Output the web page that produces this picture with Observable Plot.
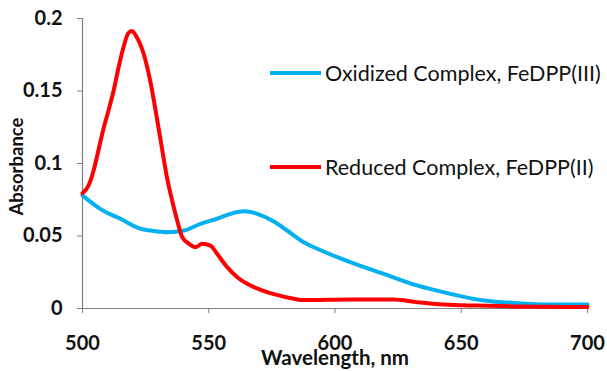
<!DOCTYPE html>
<html>
<head>
<meta charset="utf-8">
<script src="https://cdn.jsdelivr.net/npm/d3@7"></script>
<script src="https://cdn.jsdelivr.net/npm/@observablehq/plot@0.6"></script>
<style>
  html, body { margin: 0; padding: 0; background: #fff; }
  #wrap { position: relative; width: 607px; height: 371px; font-family: Lato, "Open Sans", sans-serif; }
  .leg { position: absolute; left: 270px; display: flex; align-items: center; font-size: 21.5px; color: #111; white-space: nowrap; }
  .leg .sw { width: 51px; height: 4px; margin-right: 4px; }
</style>
</head>
<body>
<div id="wrap"></div>
<script>
// Series names and colours
const seriesNames = ["Oxidized Complex, FeDPP(III)", "Reduced Complex, FeDPP(II)"];
const seriesColors = ["#00B0F0", "#FF0000"];

// Oxidized complex (blue)
const oxNm  = [500, 507, 515, 523, 527, 533.6, 540.2, 546.7, 553.3, 558.6, 563.9, 569.2, 575.8, 581, 587.6, 593, 606, 619.3, 632.5, 645.7, 659, 672, 685, 700];
const oxAbs = [0.078, 0.0687, 0.0619, 0.055, 0.0538, 0.0526, 0.0538, 0.0584, 0.0619, 0.0653, 0.0671, 0.0653, 0.0600, 0.0538, 0.0457, 0.0412, 0.032, 0.0239, 0.0159, 0.0101, 0.0055, 0.0037, 0.0028, 0.0028];

// Reduced complex (red)
const redNm  = [500, 502.4, 504.4, 506.3, 508.3, 510.3, 512.3, 514.3, 516.2, 518.2, 519.5, 521.5, 524.2, 526.8, 529.4, 531.4, 533.5, 535.5, 537.5, 539.5, 542.2, 544.8, 547.4, 550.7, 553.3, 557.3, 561.3, 565.2, 570.5, 575.8, 583.7, 587.6, 606, 623, 632.5, 643, 656, 672, 700];
const redAbs = [0.0795, 0.0848, 0.0952, 0.109, 0.124, 0.1366, 0.150, 0.1664, 0.180, 0.190, 0.1913, 0.1871, 0.1757, 0.1572, 0.132, 0.1112, 0.090, 0.0745, 0.0607, 0.0492, 0.0446, 0.0423, 0.0446, 0.0434, 0.0377, 0.0285, 0.0216, 0.017, 0.0129, 0.0099, 0.0067, 0.0058, 0.0062, 0.0062, 0.0044, 0.0028, 0.002, 0.0014, 0.001];

// Ticks
const xTicks = [500, 550, 600, 650, 700];
const xTickLabels = ["500", "550", "600", "650", "700"];
const yTicks = [0, 0.05, 0.1, 0.15, 0.2];
const yTickLabels = ["0", "0.05", "0.1", "0.15", "0.2"];
const xTitle = "Wavelength, nm";
const yTitle = "Absorbance";

const ox = oxNm.map((x, i) => ({x, y: oxAbs[i]}));
const red = redNm.map((x, i) => ({x, y: redAbs[i]}));

const axisColor = "#7f7f7f";

const chart = Plot.plot({
  width: 607,
  height: 371,
  marginLeft: 82,
  marginRight: 20,
  marginTop: 18,
  marginBottom: 63,
  style: {fontFamily: "Lato, 'Open Sans', sans-serif", background: "#fff", color: "#111", overflow: "visible"},
  x: {domain: [500, 700]},
  y: {domain: [0, 0.2]},
  marks: [
    Plot.ruleX([500], {stroke: axisColor, strokeWidth: 1.2}),
    Plot.ruleY([0], {stroke: axisColor, strokeWidth: 1.2}),
    Plot.axisY(yTicks, {tickSize: 5, tickPadding: 15, fontSize: 20, fontWeight: "bold", stroke: axisColor, fill: "#111",
      tickFormat: d => yTickLabels[yTicks.indexOf(d)], label: null}),
    Plot.axisX(xTicks, {tickSize: 5, tickPadding: 22, fontSize: 20, fontWeight: "bold", stroke: axisColor, fill: "#111",
      tickFormat: d => xTickLabels[xTicks.indexOf(d)], label: null}),
    Plot.text([yTitle], {frameAnchor: "left", textAnchor: "middle", lineAnchor: "middle", rotate: -90, dx: -65, dy: 3, fontSize: 18.5, fontWeight: "bold", fill: "#111"}),
    Plot.text([xTitle], {frameAnchor: "bottom", textAnchor: "middle", lineAnchor: "middle", dy: 50, fontSize: 20.5, fontWeight: "bold", fill: "#111"}),
    Plot.line(ox, {x: "x", y: "y", stroke: seriesColors[0], strokeWidth: 4, curve: "monotone-x"}),
    Plot.line(red, {x: "x", y: "y", stroke: seriesColors[1], strokeWidth: 4, curve: "monotone-x"})
  ]
});

const wrap = document.getElementById("wrap");
wrap.appendChild(chart);

// Legend overlay inside the plot area
const legTops = [73, 167];
seriesNames.forEach((name, i) => {
  const d = document.createElement("div");
  d.className = "leg";
  d.style.top = (legTops[i] - 13) + "px";
  d.style.height = "26px";
  const sw = document.createElement("span");
  sw.className = "sw";
  sw.style.background = seriesColors[i];
  const t = document.createElement("span");
  t.textContent = name;
  d.appendChild(sw);
  d.appendChild(t);
  wrap.appendChild(d);
});
</script>
</body>
</html>
